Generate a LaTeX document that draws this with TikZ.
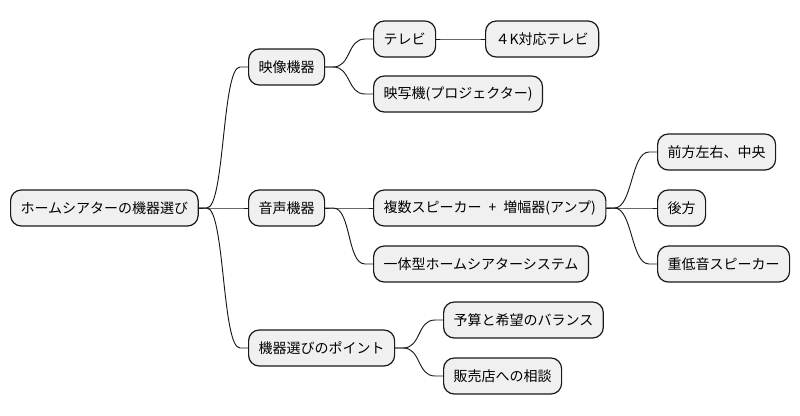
\documentclass[tikz,border=0pt]{standalone}
\usepackage{fontspec}
\setmainfont{Noto Sans CJK JP}
\usetikzlibrary{calc}

\begin{document}
\begin{tikzpicture}[x=0.75pt,y=-0.75pt,
    topic/.style={draw=black!90, fill=black!6, line width=0.9pt, rounded corners=8pt,
      anchor=west, minimum height=27pt, inner xsep=7.5pt, font=\fontsize{10.5}{12}\selectfont},
    branch/.style={line width=0.7pt, black!90}]
    \useasboundingbox (0,0) rectangle (800,415);

    % root
    \node[topic] (root) at (10,208) {ホームシアターの機器選び};

    % first level
    \node[topic] (video) at (248,67) {映像機器};
    \node[topic] (audio) at (248,208) {音声機器};
    \node[topic] (point) at (248,348) {機器選びのポイント};

    % video
    \node[topic] (tv) at (373,39) {テレビ};
    \node[topic] (tv4k) at (485,39) {４K対応テレビ};
    \node[topic] (proj) at (373,94) {映写機(プロジェクター)};

    % audio
    \node[topic] (multi) at (373,208) {複数スピーカー\enspace+\enspace 増幅器(アンプ)};
    \node[topic] (front) at (657,152) {前方左右、中央};
    \node[topic] (rear) at (657,208) {後方};
    \node[topic] (woofer) at (657,264) {重低音スピーカー};
    \node[topic] (allin) at (373,264) {一体型ホームシアターシステム};

    % points
    \node[topic] (budget) at (443,320) {予算と希望のバランス};
    \node[topic] (shop) at (443,376) {販売店への相談};

    % branches
    \foreach \a/\b in {root/video, root/audio, root/point, video/tv, video/proj, tv/tv4k,
        audio/multi, audio/allin, multi/front, multi/rear, multi/woofer, point/budget, point/shop}
      \draw[branch] (\a.east) -- ++(8,0) .. controls +(18,0) and +(-18,0) .. ($(\b.west)+(-8,0)$) -- (\b.west);
\end{tikzpicture}
\end{document}
